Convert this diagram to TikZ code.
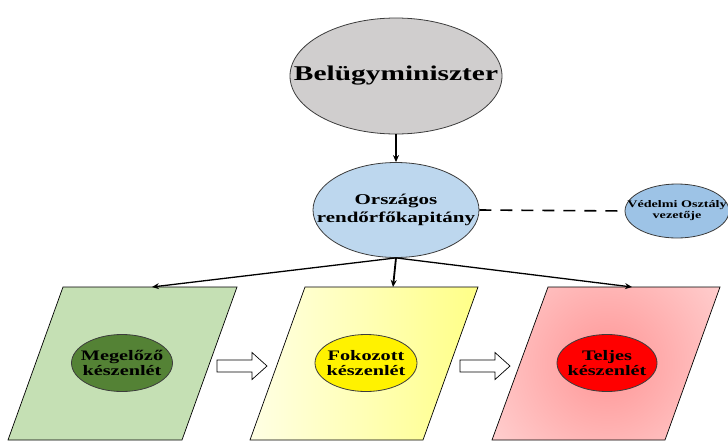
\documentclass[tikz,border=0pt]{standalone}
\usepackage{fontspec}
\setmainfont{Liberation Serif}
\newfontfamily\widefont[FakeStretch=1.4]{Liberation Serif}
\usetikzlibrary{arrows.meta,shapes.geometric}
\definecolor{ministergray}{RGB}{208,206,206}
\definecolor{chiefblue}{RGB}{189,215,238}
\definecolor{defblue}{RGB}{157,195,230}
\definecolor{palegreen}{RGB}{197,224,180}
\definecolor{darkgreen}{RGB}{84,130,53}
\definecolor{paleyellow}{RGB}{255,255,228}
\definecolor{richyellow}{RGB}{255,255,135}
\definecolor{palered}{RGB}{255,215,215}
\definecolor{midred}{RGB}{255,150,150}
\definecolor{edgegray}{RGB}{60,60,60}
\begin{document}
\begin{tikzpicture}[x=1pt,y=-1pt,
  oval/.style={ellipse, draw=edgegray, line width=0.8pt, inner sep=0pt},
  lbl/.style={font=\widefont\bfseries, align=center, text=black, inner sep=0pt},
  phase/.style={draw=black, line width=0.7pt},
  link/.style={-{Stealth[length=7pt,width=6pt]}, line width=1.3pt, black},
  blockarrow/.pic={\draw[fill=white, draw=black, line width=0.7pt]
      (0,-6) -- (35,-6) -- (35,-13.5) -- (50,0) -- (35,13.5) -- (35,6) -- (0,6) -- cycle;}
]
\useasboundingbox (0,0) rectangle (728,442);

% readiness phases (parallelograms)
\fill[palegreen] (63,287) -- (237,287) -- (182,440) -- (8,440) -- cycle;
\draw[phase] (63,287) -- (237,287) -- (182,440) -- (8,440) -- cycle;
\shade[left color=paleyellow, right color=richyellow] (305,287) -- (478,287) -- (423,440) -- (250,440) -- cycle;
\draw[phase] (305,287) -- (478,287) -- (423,440) -- (250,440) -- cycle;
\begin{scope}
  \clip (548,287) -- (720,287) -- (665,440) -- (492,440) -- cycle;
  \shade[inner color=midred, outer color=palered] (607,363) circle[radius=160];
\end{scope}
\draw[phase] (548,287) -- (720,287) -- (665,440) -- (492,440) -- cycle;
\coordinate (greentop) at (152,287);
\coordinate (yellowtop) at (393,287);
\coordinate (redtop) at (632,287);

% command chain
\node[oval, fill=ministergray, minimum width=212pt, minimum height=116pt,
      label={[lbl, font=\widefont\bfseries\fontsize{21}{24}\selectfont]center:Belügyminiszter}]
      (minister) at (396,76) {};
\node[oval, fill=chiefblue, minimum width=166pt, minimum height=95pt,
      label={[lbl, font=\widefont\bfseries\fontsize{15}{17.5}\selectfont]center:Országos\\rendőrfőkapitány}]
      (chief) at (396,210) {};
\node[oval, fill=defblue, minimum width=104pt, minimum height=54pt,
      label={[lbl, font=\widefont\bfseries\fontsize{10.1}{11}\selectfont]center:Védelmi Osztály\\vezetője}]
      (defence) at (677,211) {};

% readiness levels
\node[oval, fill=darkgreen, minimum width=101pt, minimum height=57pt,
      label={[lbl, font=\widefont\bfseries\fontsize{14.5}{14.5}\selectfont]center:Megelőző\\készenlét}]
      (prevent) at (122,363) {};
\node[oval, fill=yellow, minimum width=102pt, minimum height=57pt,
      label={[lbl, font=\widefont\bfseries\fontsize{14.5}{14.5}\selectfont]center:Fokozott\\készenlét}]
      (raised) at (366,363) {};
\node[oval, fill=red, minimum width=100pt, minimum height=57pt,
      label={[lbl, font=\widefont\bfseries\fontsize{14.5}{14.5}\selectfont]center:Teljes\\készenlét}]
      (full) at (607,363) {};

% progression between phases
\pic at (217,366) {blockarrow};
\pic at (460,366) {blockarrow};

% connectors
\draw[link, line width=2.2pt] (minister.south) -- (chief.north);
\draw[line width=1.6pt, dash pattern=on 12pt off 9pt] (chief.east) -- (defence.west);
\draw[link] (chief.south) -- (greentop);
\draw[link, line width=1.8pt] (chief.south) -- (yellowtop);
\draw[link] (chief.south) -- (redtop);
\end{tikzpicture}
\end{document}
